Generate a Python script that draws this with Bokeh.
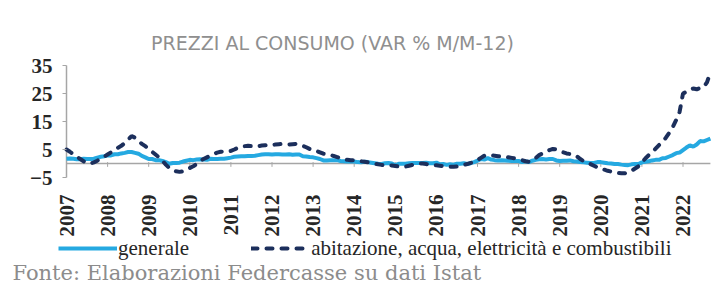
from math import pi
from bokeh.plotting import figure
from bokeh.models import (Range1d, FixedTicker, LinearAxis, Legend, LegendItem,
                          Label)
from bokeh.embed import file_html
from bokeh.resources import INLINE

START_YEAR = 2007
YEARS = list(range(2007, 2023))
Y_TICKS = [-5, 5, 15, 25, 35]

TITLE = "PREZZI AL CONSUMO (VAR % M/M-12)"
SOURCE = "Fonte: Elaborazioni  Federcasse su dati Istat"
LABEL_GEN = "generale"
LABEL_ABI = "abitazione, acqua, elettricità e combustibili"

# monthly values, Jan 2007 - Sep 2022
generale = [
    1.7, 1.8, 1.7, 1.5, 1.5, 1.7, 1.6, 1.6, 1.7, 2.1, 2.4, 2.6,
    2.9, 2.9, 3.3, 3.3, 3.6, 3.8, 4.1, 4.1, 3.8, 3.5, 2.7, 2.2,
    1.6, 1.6, 1.2, 1.2, 0.9, 0.5, -0.1, 0.2, 0.2, 0.3, 0.7, 1.0,
    1.3, 1.2, 1.4, 1.5, 1.4, 1.3, 1.7, 1.6, 1.6, 1.7, 1.7, 1.9,
    2.1, 2.4, 2.5, 2.6, 2.6, 2.7, 2.7, 2.8, 3.0, 3.2, 3.3, 3.3,
    3.2, 3.3, 3.3, 3.2, 3.2, 3.3, 3.1, 3.2, 3.2, 2.6, 2.5, 2.3,
    2.2, 1.9, 1.6, 1.1, 1.1, 1.2, 1.2, 1.2, 0.9, 0.8, 0.7, 0.7,
    0.7, 0.5, 0.4, 0.6, 0.5, 0.3, 0.1, -0.1, -0.2, 0.1, 0.2, 0.0,
    -0.6, -0.1, -0.1, -0.1, 0.1, 0.2, 0.2, 0.2, 0.2, 0.3, 0.1, 0.1,
    0.3, -0.3, -0.2, -0.5, -0.3, -0.4, -0.1, -0.1, 0.1, -0.2, 0.1, 0.5,
    1.0, 1.6, 1.4, 1.9, 1.4, 1.2, 1.1, 1.2, 1.1, 1.0, 0.9, 0.9,
    0.9, 0.5, 0.8, 0.5, 1.0, 1.3, 1.5, 1.6, 1.4, 1.6, 1.6, 1.1,
    0.9, 1.0, 1.0, 1.1, 0.8, 0.7, 0.5, 0.4, 0.3, 0.2, 0.2, 0.5,
    0.5, 0.3, 0.1, 0.0, -0.2, -0.2, -0.4, -0.5, -0.6, -0.3, -0.2, -0.2,
    0.4, 0.6, 0.8, 1.1, 1.3, 1.3, 1.9, 2.0, 2.5, 3.0, 3.7, 3.9,
    4.8, 5.7, 6.5, 6.0, 6.8, 8.0, 7.9, 8.4, 8.9,
]

abitazione = [
    5.0, 4.2, 3.3, 2.5, 1.6, 0.8, 0.2, 0.0, 0.4, 1.0, 1.8, 2.4,
    3.2, 4.0, 4.8, 5.6, 6.3, 7.3, 8.5, 9.8, 9.2, 8.0, 7.0, 6.2,
    5.2, 4.2, 3.2, 2.2, 1.0, -0.4, -1.6, -2.3, -2.8, -3.0, -2.8, -2.2,
    -1.6, -1.0, -0.2, 0.8, 1.6, 2.2, 2.8, 3.4, 3.9, 4.2, 4.3, 4.2,
    4.5, 5.0, 5.6, 6.0, 6.2, 6.3, 6.2, 6.0, 6.2, 6.4, 6.5, 6.6,
    6.6, 6.8, 6.9, 7.0, 6.9, 6.8, 6.9, 7.0, 6.8, 6.3, 5.8, 5.2,
    4.8, 4.5, 4.0, 3.5, 3.2, 3.0, 2.7, 2.3, 1.9, 1.5, 1.3, 1.2,
    1.2, 1.0, 0.8, 0.6, 0.4, 0.1, -0.1, -0.3, -0.5, -0.6, -0.6, -0.7,
    -0.9, -1.1, -1.2, -1.1, -0.8, -0.5, -0.2, 0.0, 0.0, -0.2, -0.4, -0.6,
    -0.6, -0.8, -1.0, -1.2, -1.2, -1.2, -1.1, -0.9, -0.5, -0.2, 0.2, 0.6,
    1.2, 2.0, 2.8, 3.0, 2.9, 2.8, 2.6, 2.5, 2.4, 2.2, 2.0, 1.8,
    1.6, 1.2, 0.8, 0.6, 1.2, 2.0, 3.0, 3.6, 4.2, 4.8, 5.2, 5.0,
    4.6, 4.0, 3.6, 3.4, 3.2, 2.6, 1.6, 0.8, 0.3, -0.2, -0.8, -1.4,
    -1.7, -2.2, -2.6, -2.9, -3.2, -3.4, -3.5, -3.5, -3.2, -2.6, -1.8, -1.0,
    0.4, 1.8, 3.0, 4.0, 5.3, 6.6, 7.7, 9.2, 11.0, 13.0, 15.5, 18.4,
    25.0, 25.6, 26.2, 26.8, 26.5, 27.0, 27.2, 29.0, 32.5,
]

months = [START_YEAR + i / 12 for i in range(len(generale))]

LIGHT = "#25a9e1"
DARK = "#1c2f5c"
GRAY = "#a6a6a6"
TEXT = "#262626"

# the frame spans the whole canvas; 41.1 px per year, 2.8 px per unit,
# year 2007 at x=66 px and value 35 at y=65 px from the top
PX_YEAR = 41.1
PX_UNIT = 2.8
W, H = 722, 284
X0 = YEARS[0] - 66 / PX_YEAR
X1 = YEARS[0] + (W - 66) / PX_YEAR
Y1 = Y_TICKS[-1] + 65 / PX_UNIT
Y0 = Y_TICKS[-1] - (H - 65) / PX_UNIT

p = figure(width=W, height=H, output_backend="svg", toolbar_location=None,
           x_range=Range1d(X0, X1), y_range=Range1d(Y0, Y1),
           x_axis_location=None, y_axis_location=None,
           min_border_left=0, min_border_right=0, min_border_top=0,
           min_border_bottom=0)
p.outline_line_color = None
p.xgrid.visible = False
p.ygrid.visible = False
p.background_fill_color = "white"
p.border_fill_color = "white"

# zero line, its year ticks, and the vertical axis line
p.segment(x0=[YEARS[0]], y0=[0], x1=[months[-1]], y1=[0], line_color=GRAY,
          line_width=1.5)
p.segment(x0=YEARS, y0=[-1.2] * len(YEARS), x1=YEARS, y1=[0.5] * len(YEARS),
          line_color=GRAY, line_width=1)
p.segment(x0=[YEARS[0]], y0=[Y_TICKS[0]], x1=[YEARS[0]], y1=[Y_TICKS[-1]],
          line_color=GRAY, line_width=1.5)

r_gen = p.line(months, generale, line_color=LIGHT, line_width=4)
r_abi = p.line(months, abitazione, line_color=DARK, line_width=4,
               line_dash="6 9", line_cap="round")

xa = LinearAxis(fixed_location=Y_TICKS[0], ticker=FixedTicker(ticks=YEARS))
xa.major_label_orientation = pi / 2
xa.axis_line_color = None
xa.major_tick_line_color = None
xa.minor_tick_line_color = None
xa.major_label_standoff = 11
xa.major_label_text_font = "Liberation Serif"
xa.major_label_text_font_size = "21px"
xa.major_label_text_font_style = "bold"
xa.major_label_text_color = TEXT
p.add_layout(xa, "below")

ya = LinearAxis(fixed_location=YEARS[0], ticker=FixedTicker(ticks=Y_TICKS))
ya.axis_line_color = None
ya.major_tick_line_color = GRAY
ya.major_tick_out = 4
ya.major_tick_in = 0
ya.minor_tick_line_color = None
ya.major_label_standoff = 10
ya.major_label_text_font = "Liberation Serif"
ya.major_label_text_font_size = "21px"
ya.major_label_text_font_style = "bold"
ya.major_label_text_color = TEXT
p.add_layout(ya, "left")

legend = Legend(items=[LegendItem(label=LABEL_GEN, renderers=[r_gen]),
                       LegendItem(label=LABEL_ABI, renderers=[r_abi])],
                orientation="horizontal", location=(58, 22),
                glyph_width=59, glyph_height=28, label_height=28,
                label_standoff=1, spacing=62,
                padding=0, margin=0, border_line_color=None,
                background_fill_alpha=0,
                label_text_font="Liberation Serif", label_text_font_size="21px",
                label_text_color=TEXT)
p.add_layout(legend)

p.add_layout(Label(x=332, y=H - 42, x_units="screen", y_units="screen",
                   text=TITLE, text_align="center", text_baseline="middle",
                   text_font="DejaVu Sans", text_font_size="19px",
                   text_color="#8f8f8f"))
p.add_layout(Label(x=12, y=12, x_units="screen", y_units="screen", text=SOURCE,
                   text_align="left", text_baseline="middle",
                   text_font="DejaVu Serif", text_font_size="21px",
                   text_color="#8c8c8c"))

open("out.html", "w").write(file_html(p, INLINE))
